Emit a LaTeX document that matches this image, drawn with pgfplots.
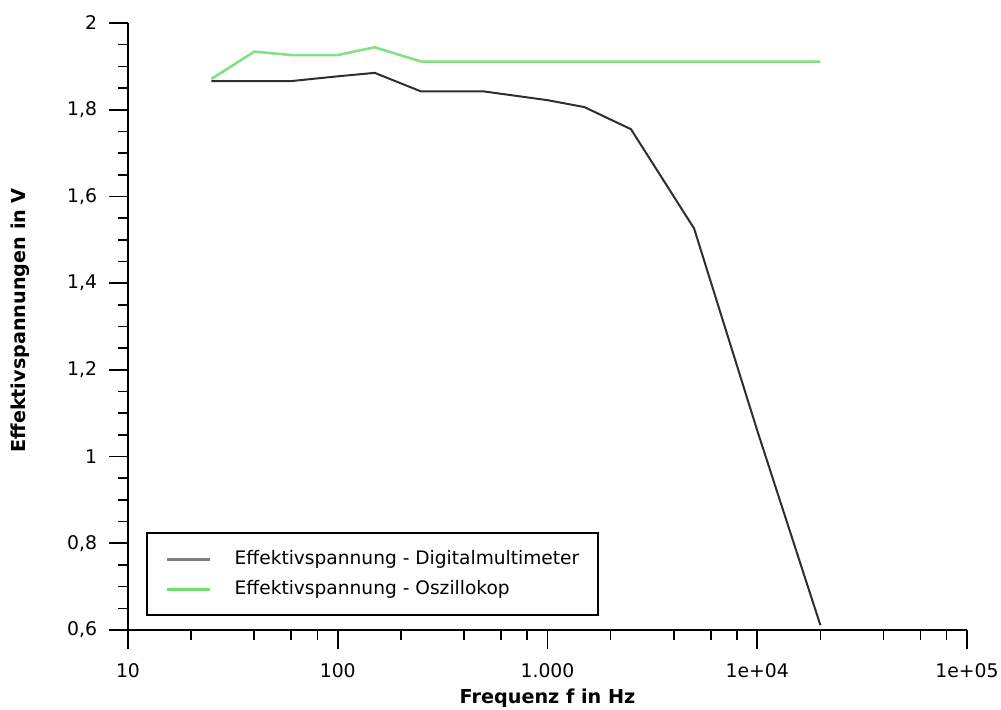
\documentclass[border=0pt]{standalone}
\usepackage{fontspec}
\setmainfont{DejaVu Sans}
\usepackage{pgfplots}
\pgfplotsset{compat=1.18}

\definecolor{dmm}{HTML}{2E2E2E}
\definecolor{dmmleg}{HTML}{808080}
\definecolor{osz}{HTML}{84E084}
\definecolor{oszleg}{HTML}{6FDD6F}

\begin{document}
\begin{tikzpicture}
\begin{axis}[
  scale only axis, width=419.5pt, height=303.5pt,
  xmode=log, xmin=10, xmax=100000, ymin=0.6, ymax=2,
  axis x line*=bottom, axis y line*=left,
  axis line style={-, line width=1pt, black},
  tick align=outside, major tick length=9.5pt, minor tick length=5pt,
  tick style={black, line width=0.8pt},
  xtick={10,100,1000,10000,100000},
  xticklabels={10,100,1.000,1e+04,1e+05},
  minor xtick={20,40,60,80,200,400,600,800,2000,4000,6000,8000,20000,40000,60000,80000},
  ytick={0.6,0.8,1,1.2,1.4,1.6,1.8,2},
  minor y tick num=3,
  /pgf/number format/use comma,
  /pgf/number format/assume math mode=true,
  ticklabel style={font=\fontsize{9.4}{11}\selectfont},
  xticklabel style={yshift=-3.5pt},
  yticklabel style={xshift=-2.5pt},
  xlabel={\textbf{Frequenz f in Hz}},
  ylabel={\textbf{Effektivspannungen in V}},
  label style={font=\fontsize{9.6}{11}\selectfont},
  xlabel style={at={(axis description cs:0.5,0)}, anchor=base, yshift=-36.5pt},
  ylabel style={at={(axis description cs:-0.1287,0.51)}, anchor=center},
  legend image code/.code={\draw[#1,line width=1.6pt] (0pt,0pt) -- (21.5pt,0pt);
    \path (33pt,0pt);},
  legend cell align=left,
  legend style={at={(0.0215,0.023)}, anchor=south west, draw=black, line width=0.8pt,
    inner xsep=9.5pt, inner ysep=9pt, row sep=7pt,
    font=\fontsize{9.3}{11}\selectfont,
    nodes={inner sep=0pt, text height=6.5pt, text depth=1.5pt}},
]
\addplot[dmm, line width=1pt, legend image post style={dmmleg}] coordinates {
  (25,1.866) (40,1.866) (60,1.866) (100,1.877) (150,1.885) (250,1.842)
  (500,1.842) (1000,1.822) (1500,1.806) (2500,1.755) (5000,1.526)
  (10000,1.060) (20000,0.611)};
\addlegendentry{Effektivspannung - Digitalmultimeter}
\addplot[osz, line width=1.3pt, legend image post style={oszleg}] coordinates {
  (25,1.871) (40,1.934) (60,1.926) (100,1.926) (150,1.944) (250,1.911)
  (500,1.911) (1000,1.911) (1500,1.911) (2500,1.911) (5000,1.911)
  (10000,1.911) (20000,1.911)};
\addlegendentry{Effektivspannung - Oszillokop}
\end{axis}
\pgfresetboundingbox
\path[use as bounding box] ([xshift=-64pt,yshift=-39.5pt]current axis.south west)
  rectangle ([xshift=17pt,yshift=11.5pt]current axis.north east);
\end{tikzpicture}
\end{document}
